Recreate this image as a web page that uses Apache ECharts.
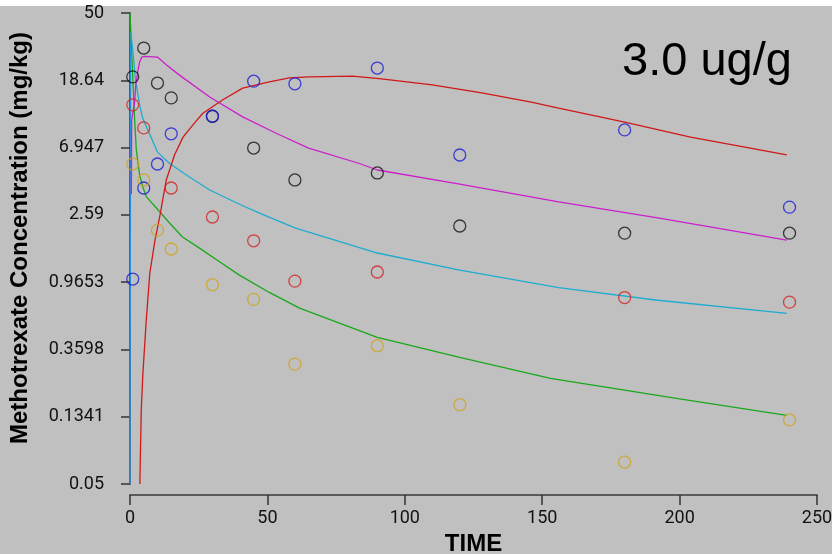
<!DOCTYPE html>
<html>
<head>
<meta charset="utf-8">
<script src="https://cdn.jsdelivr.net/npm/echarts@6.0.0/dist/echarts.min.js"></script>
<style>
  html, body { margin: 0; padding: 0; background: #c0c0c0; }
  #chart { width: 832px; height: 554px; }
</style>
</head>
<body>
<div id="chart"></div>
<script>
// sampling times of the measured points (min)
var obsTimes = [1, 5, 10, 15, 30, 45, 60, 90, 120, 180, 240];
var blackObs = [19.6, 29.9, 17.9, 14.4, 11.0, 6.9, 4.32, 4.79, 2.2, 1.98, 1.98];
var blueObs  = [1.01, 3.84, 5.46, 8.5, 11.0, 18.4, 17.7, 22.3, 6.23, 9.0, 2.9];
var redObs   = [13.0, 9.27, null, 3.84, 2.51, 1.77, 0.98, 1.12, null, 0.77, 0.72];
var goldObs  = [5.46, 4.32, 2.07, 1.57, 0.93, 0.75, 0.29, 0.38, 0.16, 0.069, 0.128];

// model curves
var greenT = [0, 0.5, 1.1, 1.7, 2.3, 3.5, 4.8, 6, 10.9, 14.4, 19.1, 25.3, 31.5, 39.8, 50.7, 61.7, 90, 120, 153, 200, 239];
var greenV = [50, 32, 17.9, 10.4, 6.7, 4.65, 3.84, 3.37, 2.7, 2.3, 1.87, 1.59, 1.34, 1.07, 0.83, 0.66, 0.43, 0.32, 0.235, 0.174, 0.137];

var cyanT = [0.3, 1, 2, 3.5, 4.6, 10, 14.4, 21.5, 29, 41, 48, 60, 90, 120, 156, 192, 239];
var cyanV = [37.8, 29, 18.7, 13, 10.7, 6.5, 5.5, 4.53, 3.73, 2.96, 2.62, 2.14, 1.48, 1.15, 0.89, 0.74, 0.61];

var blueLineT = [0, 0.25];
var blueLineV = [0.05, 38];

var magentaT = [0.5, 0.6, 1.7, 2.1, 2.8, 3.5, 4.3, 5.3, 10, 13.3, 18, 29, 41, 53, 65, 83.5, 90, 120, 156, 192.6, 239];
var magentaV = [3.5, 10.4, 13.6, 17.4, 21, 24.4, 26.2, 26.5, 26.2, 23.3, 20.1, 14.6, 10.9, 8.6, 6.9, 5.5, 5.0, 4.07, 3.13, 2.47, 1.79];

var redT = [3.6, 3.8, 4.1, 4.7, 5.9, 7.2, 9.1, 10.8, 13.2, 16.2, 19.3, 22.9, 26.5, 33.8, 41, 50.7, 58, 65.3, 81, 91.5, 110, 128, 146, 156, 180, 204, 239];
var redV = [0.05, 0.079, 0.148, 0.255, 0.546, 1.10, 1.79, 2.51, 4.32, 6.23, 8.1, 9.7, 11.5, 14, 16.6, 18.2, 19.3, 19.6, 19.8, 19.0, 17.4, 15.5, 13.55, 12.4, 10.1, 8.1, 6.24];

// y axis tick labels
var yTicks = [0.05, 0.1341, 0.3598, 0.9653, 2.59, 6.947, 18.64, 50];
var yTickLabels = ['0.05', '0.1341', '0.3598', '0.9653', '2.59', '6.947', '18.64', '50'];

function pairs(xs, ys) {
  var out = [];
  for (var i = 0; i < xs.length; i++) {
    if (ys[i] !== null) out.push([xs[i], ys[i]]);
  }
  return out;
}

function lineSeries(xs, ys, color) {
  return {
    type: 'line',
    data: pairs(xs, ys),
    symbol: 'none',
    smooth: false,
    lineStyle: { color: color, width: 1.3 },
    z: 2
  };
}

function dotSeries(ys, color) {
  return {
    type: 'scatter',
    data: pairs(obsTimes, ys),
    symbol: 'circle',
    symbolSize: 12,
    itemStyle: { color: 'rgba(0,0,0,0)', borderColor: color, borderWidth: 1.3 },
    z: 3
  };
}

var chart = echarts.init(document.getElementById('chart'));
chart.setOption({
  animation: false,
  backgroundColor: '#c0c0c0',
  grid: { left: 130, right: 15, top: 13, bottom: 70, containLabel: false, outerBoundsMode: 'none' },
  xAxis: {
    type: 'value',
    min: 0,
    max: 250,
    interval: 50,
    offset: 11,
    name: 'TIME',
    nameLocation: 'middle',
    nameGap: 36,
    nameTextStyle: { fontFamily: 'Liberation Sans', fontWeight: 'bold', fontSize: 24, color: '#000' },
    axisLine: { lineStyle: { color: '#5a5a5a', width: 2 } },
    axisTick: { length: 10, lineStyle: { color: '#333', width: 1.5 } },
    axisLabel: { fontFamily: 'Roboto', fontSize: 18, color: '#111', margin: 14 },
    splitLine: { show: false }
  },
  yAxis: {
    type: 'log',
    min: 0.05,
    max: 50,
    offset: 11,
    axisLine: { show: true, lineStyle: { color: '#5a5a5a', width: 2 } },
    axisTick: { show: true, length: 9, customValues: yTicks, lineStyle: { color: '#333', width: 1.5 } },
    axisLabel: {
      customValues: yTicks,
      fontFamily: 'Roboto',
      fontSize: 18,
      color: '#111',
      margin: 15,
      formatter: function (v) {
        for (var i = 0; i < yTicks.length; i++) {
          if (Math.abs(yTicks[i] - v) / yTicks[i] < 1e-3) return yTickLabels[i];
        }
        return String(v);
      }
    },
    splitLine: { show: false },
    minorTick: { show: false }
  },
  graphic: [
    { type: 'rect', left: 0, top: 0, shape: { width: 832, height: 6 }, style: { fill: '#ffffff' } },
    { type: 'text', left: 622, top: 39, style: { text: '3.0 ug/g', font: '47px "Liberation Sans"', fill: '#000' } },
    {
      type: 'text', x: 20, y: 238, rotation: Math.PI / 2,
      style: {
        text: 'Methotrexate Concentration (mg/kg)',
        font: 'bold 24px "Liberation Sans"', fill: '#000',
        align: 'center', verticalAlign: 'middle'
      }
    }
  ],
  series: [
    lineSeries(blueLineT, blueLineV, '#2a8fe0'),
    lineSeries(greenT, greenV, '#1aa81a'),
    lineSeries(cyanT, cyanV, '#1eaccf'),
    lineSeries(magentaT, magentaV, '#cc1fcc'),
    lineSeries(redT, redV, '#d01818'),
    dotSeries(blackObs, '#111111'),
    dotSeries(blueObs, '#1a1ad8'),
    dotSeries(redObs, '#d42020'),
    dotSeries(goldObs, '#d0a21c')
  ]
});
</script>
</body>
</html>
